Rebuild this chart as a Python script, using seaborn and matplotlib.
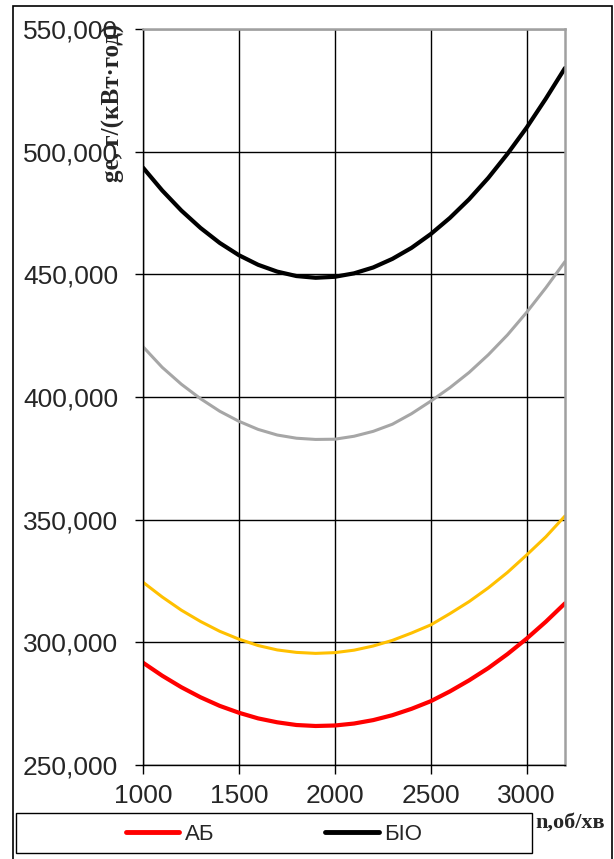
import numpy as np
import pandas as pd
import matplotlib
matplotlib.use("Agg")
import matplotlib.pyplot as plt
import seaborn as sns
from matplotlib.lines import Line2D
from matplotlib.patches import Rectangle
from matplotlib.ticker import FuncFormatter

# engine speed, rpm
n_rpm = [1000, 1100, 1200, 1300, 1400, 1500, 1600, 1700, 1800, 1900, 2000, 2100,
         2200, 2300, 2400, 2500, 2600, 2700, 2800, 2900, 3000, 3100, 3200]

# specific fuel consumption, g/(kW*h)
ge_ab = [291.7, 286.4, 281.7, 277.6, 274.1, 271.3, 269.0, 267.4, 266.3, 265.9, 266.1, 266.9,
         268.3, 270.3, 272.9, 276.0, 280.0, 284.5, 289.5, 295.2, 301.5, 308.4, 315.9]
ge_yellow = [324.5, 318.5, 313.1, 308.5, 304.5, 301.3, 298.7, 296.9, 295.9, 295.5, 295.8, 296.8,
             298.5, 300.8, 303.8, 307.1, 311.7, 316.6, 322.2, 328.5, 335.6, 343.0, 351.5]
ge_gray = [420.5, 412.1, 405.2, 399.3, 394.2, 390.1, 386.8, 384.5, 383.2, 382.7, 382.8, 384.0,
           386.0, 388.9, 393.2, 398.3, 403.8, 410.0, 417.2, 425.3, 434.5, 444.5, 455.2]
ge_bio = [493.5, 484.2, 476.0, 468.9, 462.8, 457.8, 453.9, 451.1, 449.3, 448.6, 449.0, 450.4,
          452.8, 456.3, 460.8, 466.4, 473.0, 480.6, 489.3, 499.1, 509.8, 521.6, 534.1]

series_names = ["АБ", "жовта", "сіра", "БІО"]
legend_names = ["АБ", "БІО"]
y_ticks = [250000, 300000, 350000, 400000, 450000, 500000, 550000]
x_ticks = [1000, 1500, 2000, 2500, 3000]

frames = []
for name, vals in zip(series_names, [ge_ab, ge_yellow, ge_gray, ge_bio]):
    frames.append(pd.DataFrame({"n": n_rpm, "ge": np.array(vals) * 1000, "series": name}))
df = pd.concat(frames, ignore_index=True)

colors = {"АБ": "#FF0000", "жовта": "#FFC000", "сіра": "#A6A6A6", "БІО": "#000000"}
widths = {"АБ": 3.0, "жовта": 2.2, "сіра": 2.2, "БІО": 3.0}

sns.set_style("white")
plt.rcParams["font.family"] = ["Liberation Sans", "DejaVu Sans"]

fig = plt.figure(figsize=(6.14, 8.59), dpi=100)
ax = fig.add_axes([143 / 614, 1 - 765 / 859, (565 - 143) / 614, (765 - 29) / 859])

for name in series_names:
    sns.lineplot(data=df[df["series"] == name], x="n", y="ge", color=colors[name],
                 linewidth=widths[name], ax=ax, legend=False)

ax.set_xlim(1000, 3200)
ax.set_ylim(250000, 550000)
ax.set_xticks(x_ticks)
ax.set_yticks(y_ticks)
ax.yaxis.set_major_formatter(FuncFormatter(lambda v, p: f"{v:,.0f}"))
ax.grid(True, color="black", linewidth=1.0)
ax.set_axisbelow(True)
ax.set_xlabel("")
ax.set_ylabel("")
ax.tick_params(axis="y", direction="out", length=6, width=1, color="black",
               labelsize=19, pad=12, left=True)
ax.tick_params(axis="x", direction="out", length=6.5, width=1, color="black",
               labelsize=19, pad=7, bottom=True)
for side in ["left", "bottom"]:
    ax.spines[side].set_color("black")
    ax.spines[side].set_linewidth(1.0)
for side in ["top", "right"]:
    ax.spines[side].set_color("#A0A0A0")
    ax.spines[side].set_linewidth(1.8)

# axis titles
fig.text(113 / 614, 1 - 103 / 859, "ge, г/(кВт·год)", rotation=90, ha="center", va="center",
         fontsize=18, fontweight="bold", family=["Liberation Serif", "DejaVu Serif"])
fig.text(570 / 614, 1 - 823 / 859, "n,об/хв", ha="center", va="center",
         fontsize=16, fontweight="bold", family=["Liberation Serif", "DejaVu Serif"])

# outer frame and legend box
fig.patches.append(Rectangle((13 / 614, -0.01), (612 - 13) / 614, 1 - 6 / 859 + 0.01,
                             transform=fig.transFigure, fill=False, edgecolor="black", linewidth=1.2))
fig.patches.append(Rectangle((16 / 614, 1 - 853 / 859), (532 - 16) / 614, 40 / 859,
                             transform=fig.transFigure, fill=False, edgecolor="black", linewidth=1.0))

handles = [Line2D([], [], color=colors[nm], linewidth=3.5) for nm in legend_names]
fig.legend(handles, legend_names, loc="center", bbox_to_anchor=(274 / 614, 1 - 834 / 859),
           ncol=2, frameon=False, fontsize=16, handlelength=2.4, handletextpad=0.25,
           columnspacing=5.0)

fig.savefig("out.png", dpi=100)
